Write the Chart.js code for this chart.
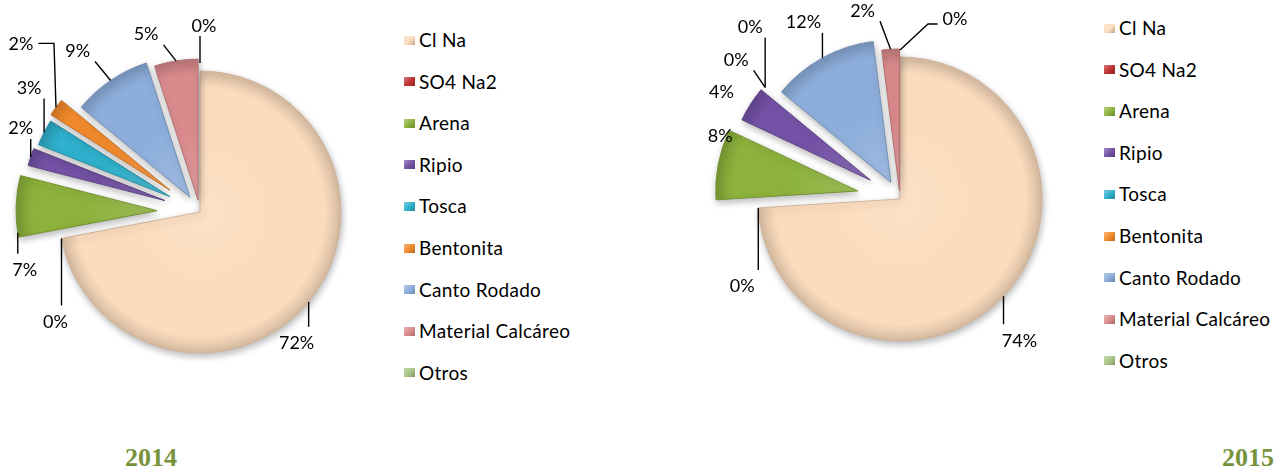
<!DOCTYPE html>
<html><head><meta charset="utf-8">
<script src="https://cdn.jsdelivr.net/npm/chart.js@4.4.1/dist/chart.umd.min.js"></script>
<style>
html,body{margin:0;padding:0;background:#fff;width:1287px;height:470px;overflow:hidden;position:relative;font-family:Lato,'Open Sans',sans-serif;}
canvas{position:absolute;}
.li{position:absolute;display:flex;align-items:center;height:24px;font-size:19px;letter-spacing:0.3px;color:#000;white-space:nowrap;line-height:24px;}
.mk{width:11px;height:9px;margin-right:4px;flex:none;}
.year{position:absolute;font-family:'Liberation Serif','Times New Roman',serif;font-weight:bold;font-size:26px;line-height:26px;color:#77933C;}
</style></head><body>
<canvas id="c2014" width="400" height="424" style="left:0;top:0"></canvas>
<canvas id="c2015" width="400" height="398" style="left:700px;top:0"></canvas>
<div id="leg2014"></div><div id="leg2015"></div>
<div class="year" id="year0" style="left:125px;top:445px"></div>
<div class="year" id="year1" style="left:1222px;top:445px"></div>
<script>
// ---- data ----
const categories = ['Cl Na','SO4 Na2','Arena','Ripio','Tosca','Bentonita','Canto Rodado','Material Calcáreo','Otros'];
const values2014 = [72, 0, 7, 2, 3, 2, 9, 5, 0];
const values2015 = [74, 0, 8, 4, 0, 0, 12, 2, 0];
const yearLabels = ['2014', '2015'];

// ---- style ----
const sliceColors = ['#FCDCBD','#C0302F','#8CB23C','#7452A6','#2FB0CC','#F28A2C','#8DAEDC','#DA8A8C','#A7C584'];
const explode2014 = [0, 0, 43, 37, 34, 37, 18, 12, 8];
const explode2015 = [0, 0, 43, 35, 33, 33, 19, 8, 7];
// label placement relative to the slice anchor (t = position along the arc)
const labelLayout2014 = [
  {dx:-12, dy:41}, {dx:-6, dy:83}, {t:0.07, dx:7, dy:37}, {dx:-10, dy:-29}, {dx:-15, dy:-45},
  {dx:-35, dy:-64, elbow:[-2,-64]}, {dx:-33, dy:-30}, {dx:-30, dy:-27}, {dx:4, dy:-38}
];
const labelLayout2015 = [
  {dx:16, dy:44}, {dx:-16, dy:78}, {dx:2, dy:-29, noLeader:true}, {dx:-29, dy:-13, noLeader:true},
  {dx:-29, dy:-28}, {dx:-15, dy:-61}, {dx:-19, dy:-36}, {dx:-28, dy:-39}, {dx:55, dy:-32, elbow:[28,-26]}
];
const FONT = '18px Lato, "Open Sans", sans-serif';

function shade(hex, f){
  const n = parseInt(hex.slice(1),16);
  let r = n>>16, g = (n>>8)&255, b = n&255;
  if (f < 0) { r *= 1+f; g *= 1+f; b *= 1+f; }
  else { r += (255-r)*f; g += (255-g)*f; b += (255-b)*f; }
  return 'rgb(' + Math.round(r) + ',' + Math.round(g) + ',' + Math.round(b) + ')';
}

function explodePlugin(dist){
  return {
    id: 'explode',
    afterDatasetsUpdate(chart){
      const ca = chart.chartArea;
      const cx = (ca.left+ca.right)/2, cy = (ca.top+ca.bottom)/2;
      chart.getDatasetMeta(0).data.forEach((el, i) => {
        const mid = (el.startAngle + el.endAngle)/2;
        const d = dist[i] || 0;
        el.x = cx + Math.cos(mid)*d;
        el.y = cy + Math.sin(mid)*d;
        const base = sliceColors[i];
        const g = chart.ctx.createRadialGradient(el.x, el.y, 0, el.x, el.y, el.outerRadius);
        g.addColorStop(0, shade(base, 0.15));
        g.addColorStop(0.5, base);
        g.addColorStop(0.88, base);
        g.addColorStop(1, shade(base, -0.15));
        try { el.options.backgroundColor = g; } catch(e) {}
      });
    },
    beforeDatasetsDraw(chart){
      const ctx = chart.ctx;
      ctx.save();
      ctx.shadowColor = 'rgba(0,0,0,0.28)';
      ctx.shadowBlur = 7;
      ctx.shadowOffsetX = 1;
      ctx.shadowOffsetY = 3;
    },
    afterDatasetsDraw(chart){ chart.ctx.restore(); }
  };
}

function labelPlugin(layout){
  return {
    id: 'pctLabels',
    afterDraw(chart){
      const ctx = chart.ctx;
      const vals = chart.data.datasets[0].data;
      const total = vals.reduce((a,b)=>a+b,0);
      ctx.save();
      ctx.font = FONT;
      ctx.fillStyle = '#000';
      ctx.strokeStyle = '#000';
      ctx.lineWidth = 1.4;
      chart.getDatasetMeta(0).data.forEach((el, i) => {
        const L = layout[i];
        const t = (L.t === undefined) ? 0.5 : L.t;
        const a = el.startAngle + t*(el.endAngle - el.startAngle);
        const ax = el.x + Math.cos(a)*el.outerRadius;
        const ay = el.y + Math.sin(a)*el.outerRadius;
        const txt = Math.round(vals[i]/total*100) + '%';
        const w = ctx.measureText(txt).width;
        const tx = ax + L.dx, ty = ay + L.dy;
        if (!L.noLeader) {
          const pts = [[ax, ay]];
          let px = ax, py = ay;
          if (L.elbow) { px = ax + L.elbow[0]; py = ay + L.elbow[1]; pts.push([px, py]); }
          const ex = Math.min(Math.max(px, tx - w/2 - 5), tx + w/2 + 5);
          const ey = Math.min(Math.max(py, ty - 16), ty + 11);
          pts.push([ex, ey]);
          ctx.beginPath();
          ctx.moveTo(pts[0][0], pts[0][1]);
          for (let k = 1; k < pts.length; k++) ctx.lineTo(pts[k][0], pts[k][1]);
          ctx.stroke();
        }
        ctx.textAlign = 'center';
        ctx.textBaseline = 'alphabetic';
        ctx.fillText(txt, tx, ty + 6.5);
      });
      ctx.restore();
    }
  };
}

function buildLegend(chart, containerId, left, firstY, step){
  const box = document.getElementById(containerId);
  chart.data.labels.forEach((lab, i) => {
    const item = document.createElement('div');
    item.className = 'li';
    item.style.left = left + 'px';
    item.style.top = (firstY + i*step - 12) + 'px';
    const mk = document.createElement('span');
    mk.className = 'mk';
    const c = sliceColors[i];
    mk.style.background = 'linear-gradient(135deg,' + shade(c,0.35) + ',' + c + ' 55%,' + shade(c,-0.25) + ')';
    const sp = document.createElement('span');
    sp.textContent = lab;
    item.appendChild(mk); item.appendChild(sp);
    box.appendChild(item);
  });
}

function makeChart(id, values, radius, dist, layout){
  return new Chart(document.getElementById(id), {
    type: 'pie',
    data: {
      labels: categories,
      datasets: [{
        data: values,
        backgroundColor: sliceColors,
        borderColor: sliceColors.map(c => shade(c, -0.18)),
        borderWidth: 1,
        radius: radius
      }]
    },
    options: {
      responsive: false,
      animation: false,
      events: [],
      layout: {padding: 0},
      plugins: { legend: {display: false}, tooltip: {enabled: false} }
    },
    plugins: [explodePlugin(dist), labelPlugin(layout)]
  });
}

const ch1 = makeChart('c2014', values2014, 141, explode2014, labelLayout2014);
const ch2 = makeChart('c2015', values2015, 142, explode2015, labelLayout2015);
buildLegend(ch1, 'leg2014', 404, 40, 41.6);
buildLegend(ch2, 'leg2015', 1104, 28, 41.6);
document.getElementById('year0').textContent = yearLabels[0];
document.getElementById('year1').textContent = yearLabels[1];
</script>
</body></html>
